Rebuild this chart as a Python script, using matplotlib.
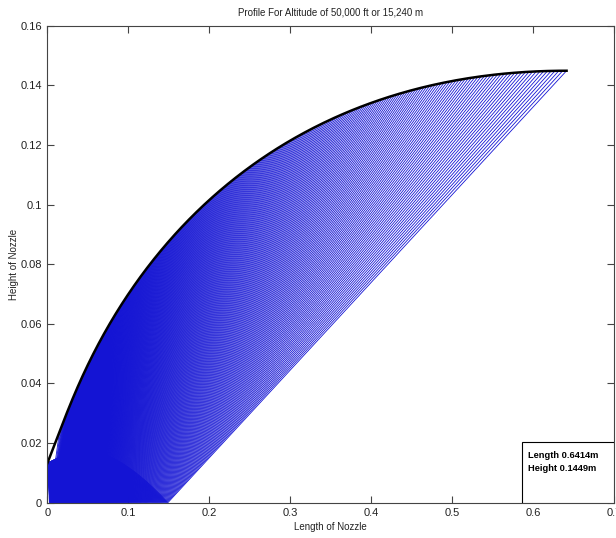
import numpy as np
import matplotlib
matplotlib.use('Agg')
import matplotlib.pyplot as plt
from matplotlib.collections import LineCollection
from matplotlib.patches import Rectangle
from matplotlib.ticker import FuncFormatter

# nozzle design inputs
gamma = 1.25
mach_exit = 3.5
throat_height = 0.0132
n_char = 400

# result reported in the corner box
nozzle_length = 0.6414
exit_height = 0.1449

x_ticks = [0, 0.1, 0.2, 0.3, 0.4, 0.5, 0.6, 0.7]
y_ticks = [0, 0.02, 0.04, 0.06, 0.08, 0.1, 0.12, 0.14, 0.16]


def prandtl_meyer(M):
    a = np.sqrt((gamma + 1) / (gamma - 1))
    b = np.sqrt(np.maximum(M**2 - 1, 0))
    return a * np.arctan(b / a) - np.arctan(b)


def mach_from_nu(nu):
    nu = np.asarray(nu, dtype=float)
    lo = np.ones_like(nu)
    hi = np.full_like(nu, 60.0)
    for _ in range(70):
        mid = 0.5 * (lo + hi)
        low = prandtl_meyer(mid) < nu
        lo = np.where(low, mid, lo)
        hi = np.where(low, hi, mid)
    return 0.5 * (lo + hi)


# method of characteristics, minimum length nozzle
nu_e = prandtl_meyer(mach_exit)
theta_max = nu_e / 2
theta = np.linspace(theta_max / n_char, theta_max, n_char)

TH = theta[None, :] - theta[:, None]          # flow angle at point (i, j)
NU = theta[None, :] + theta[:, None]
MU = np.arcsin(1.0 / mach_from_nu(NU))
mu_corner = np.arcsin(1.0 / mach_from_nu(theta))

X = np.full((n_char, n_char), np.nan)
Y = np.full((n_char, n_char), np.nan)
WX = np.zeros(n_char)
WY = np.zeros(n_char)

x0, y0 = 0.0, throat_height
for i in range(n_char):
    for j in range(i, n_char):
        # point reached along the C- line j
        if i == 0:
            x1, y1, t1, m1 = x0, y0, theta[j], mu_corner[j]
        else:
            x1, y1, t1, m1 = X[i - 1, j], Y[i - 1, j], TH[i - 1, j], MU[i - 1, j]
        t, m = TH[i, j], MU[i, j]
        a1 = np.tan(0.5 * ((t1 - m1) + (t - m)))
        if j == i:
            X[i, j] = x1 - y1 / a1
            Y[i, j] = 0.0
        else:
            x2, y2 = X[i, j - 1], Y[i, j - 1]
            a2 = np.tan(0.5 * ((TH[i, j - 1] + MU[i, j - 1]) + (t + m)))
            xx = (y2 - y1 + a1 * x1 - a2 * x2) / (a1 - a2)
            X[i, j] = xx
            Y[i, j] = y1 + a1 * (xx - x1)
    # straight C+ line out to the wall
    xp, yp = X[i, -1], Y[i, -1]
    tp, mp = TH[i, -1], MU[i, -1]
    if i == 0:
        xw, yw, tw = x0, y0, theta_max
    else:
        xw, yw, tw = WX[i - 1], WY[i - 1], TH[i - 1, -1]
    a2 = np.tan(tp + mp)
    a1 = np.tan(0.5 * (tw + tp))
    xx = (yp - yw + a1 * xw - a2 * xp) / (a1 - a2)
    WX[i] = xx
    WY[i] = yw + a1 * (xx - xw)

# fit to the reported exit point
sx = nozzle_length / WX[-1]
sy = exit_height / WY[-1]
X, WX = X * sx, WX * sx
Y, WY = Y * sy, WY * sy
x0, y0 = x0 * sx, y0 * sy

segs = []
for j in range(n_char):
    xs = np.r_[x0, X[:j + 1, j]]
    ys = np.r_[y0, Y[:j + 1, j]]
    segs.append(np.column_stack([xs, ys]))
for i in range(n_char):
    xs = np.r_[X[i, i:], WX[i]]
    ys = np.r_[Y[i, i:], WY[i]]
    segs.append(np.column_stack([xs, ys]))

plt.rcParams['font.family'] = ['Liberation Sans', 'DejaVu Sans']

fig = plt.figure(figsize=(6.16, 5.38), dpi=100)
ax = fig.add_axes([0.0768, 0.0656, 0.920, 0.8866])

ax.add_collection(LineCollection(segs, colors='#1414d4', linewidths=0.6))
ax.plot(np.r_[x0, WX], np.r_[y0, WY], color='k', lw=1.8)

ax.set_xlim(0, 0.7)
ax.set_ylim(0, 0.16)
ax.set_xticks(x_ticks)
ax.set_yticks(y_ticks)
fmt = FuncFormatter(lambda v, p: f'{v:g}')
ax.xaxis.set_major_formatter(fmt)
ax.yaxis.set_major_formatter(fmt)
ax.tick_params(direction='in', top=True, right=True, length=5, width=0.8,
               labelsize=8, colors='#444444', labelcolor='#222222', pad=4)
for s in ax.spines.values():
    s.set_color('#444444')
    s.set_linewidth(0.8)

ax.set_title('Profile For Altitude of 50,000 ft or 15,240 m', fontsize=7, color='#222222', pad=7)
ax.set_xlabel('Length of Nozzle', fontsize=7, color='#222222', labelpad=3)
ax.set_ylabel('Height of Nozzle', fontsize=7, color='#222222', labelpad=0.5)

# result box in the lower right corner
ax.add_patch(Rectangle((0.8377, 0.0), 1 - 0.8377, 0.1273, transform=ax.transAxes,
                       fc='white', ec='k', lw=0.8, zorder=5))
ax.text(0.848, 0.100, f'Length {nozzle_length:.4f}m', transform=ax.transAxes,
        ha='left', va='center', fontsize=6.7, fontweight='bold', zorder=6)
ax.text(0.848, 0.071, f'Height {exit_height:.4f}m', transform=ax.transAxes,
        ha='left', va='center', fontsize=6.7, fontweight='bold', zorder=6)

fig.savefig('out.png', dpi=100)
